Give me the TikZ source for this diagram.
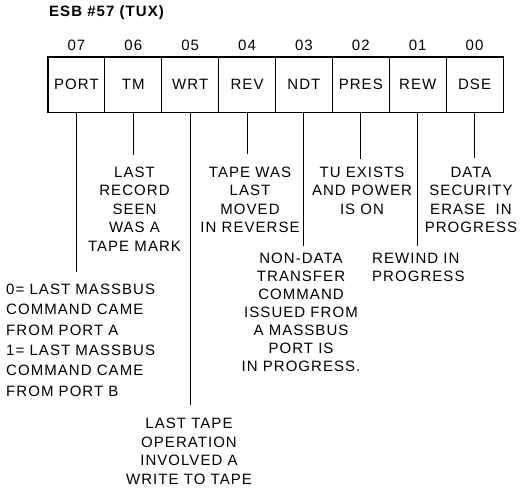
\documentclass[tikz,border=0pt]{standalone}
\usepackage{fontspec}
\setmainfont{Liberation Sans}[LetterSpace=7]
\usetikzlibrary{positioning}
\begin{document}
\begin{tikzpicture}[x=1pt,y=-1pt,
  cell/.style={draw, line width=0.9pt, minimum width=56.875pt, minimum height=55pt, inner sep=0pt, font=\fontsize{15}{18}\selectfont},
  lbl/.style={inner sep=0pt, font=\fontsize{15}{18.5}\selectfont, align=center},
  num/.style={inner sep=0pt, font=\fontsize{15}{18}\selectfont},
  stem/.style={line width=0.9pt}]
\useasboundingbox (0,0) rectangle (520,490);

\node[anchor=base west, inner sep=0pt, font=\fontsize{15}{18}\selectfont\bfseries] (title) at (49,16.5) {ESB \#57 (TUX)};

\node[cell] (b7) at (76.44,84.5) {PORT};
\node[cell] (b6) at (133.31,84.5) {TM};
\node[cell] (b5) at (190.19,84.5) {WRT};
\node[cell] (b4) at (247.06,84.5) {REV};
\node[cell] (b3) at (303.94,84.5) {NDT};
\node[cell] (b2) at (360.81,84.5) {PRES};
\node[cell] (b1) at (417.69,84.5) {REW};
\node[cell] (b0) at (474.56,84.5) {DSE};
\draw[line width=1.8pt] (b7.north west) rectangle (b0.south east);

\node[num, above=5.5pt of b7] (n7) {07};
\node[num, above=5.5pt of b6] (n6) {06};
\node[num, above=5.5pt of b5] (n5) {05};
\node[num, above=5.5pt of b4] (n4) {04};
\node[num, above=5.5pt of b3] (n3) {03};
\node[num, above=5.5pt of b2] (n2) {02};
\node[num, above=5.5pt of b1] (n1) {01};
\node[num, above=5.5pt of b0] (n0) {00};

% stems
\coordinate (e7) at (76.44,272);
\coordinate (e6) at (133.31,155);
\coordinate (e5) at (190.19,405);
\coordinate (e4) at (247.06,154);
\coordinate (e3) at (303.94,246);
\coordinate (e2) at (360.81,159);
\coordinate (e1) at (417.69,246);
\coordinate (e0) at (474.56,158);
\foreach \i in {7,6,5,4,3,2,1,0} {\draw[stem] (b\i.south) -- (e\i);}

% descriptions
\node[lbl, anchor=north west, align=left, font=\fontsize{15}{20.4}\selectfont] (t7) at (6,283.6)
  {0= LAST MASSBUS\\COMMAND CAME\\FROM PORT A\\1= LAST MASSBUS\\COMMAND CAME\\FROM PORT B};
\node[lbl, anchor=north] (t6) at (134.5,166.6)
  {LAST\\RECORD\\SEEN\\WAS A\\TAPE MARK};
\node[lbl, anchor=north, font=\fontsize{15}{18.8}\selectfont] (t5) at (189,417.6)
  {LAST TAPE\\OPERATION\\INVOLVED A\\WRITE TO TAPE};
\node[lbl, anchor=north] (t4) at (250,166.6)
  {TAPE WAS\\LAST\\MOVED\\IN REVERSE};
\node[lbl, anchor=north, font=\fontsize{15}{18}\selectfont] (t3) at (301,252.6)
  {NON-DATA\\TRANSFER\\COMMAND\\ISSUED FROM\\A MASSBUS\\PORT IS\\IN PROGRESS.};
\node[lbl, anchor=north] (t2) at (362,166.6)
  {TU EXISTS\\AND POWER\\IS ON};
\node[lbl, anchor=north west, align=left, font=\fontsize{15}{18}\selectfont] (t1) at (372,252.6)
  {REWIND IN\\PROGRESS};
\node[lbl, anchor=north] (t0) at (471,166.6)
  {DATA\\SECURITY\\ERASE~~IN\\PROGRESS};
\end{tikzpicture}
\end{document}
